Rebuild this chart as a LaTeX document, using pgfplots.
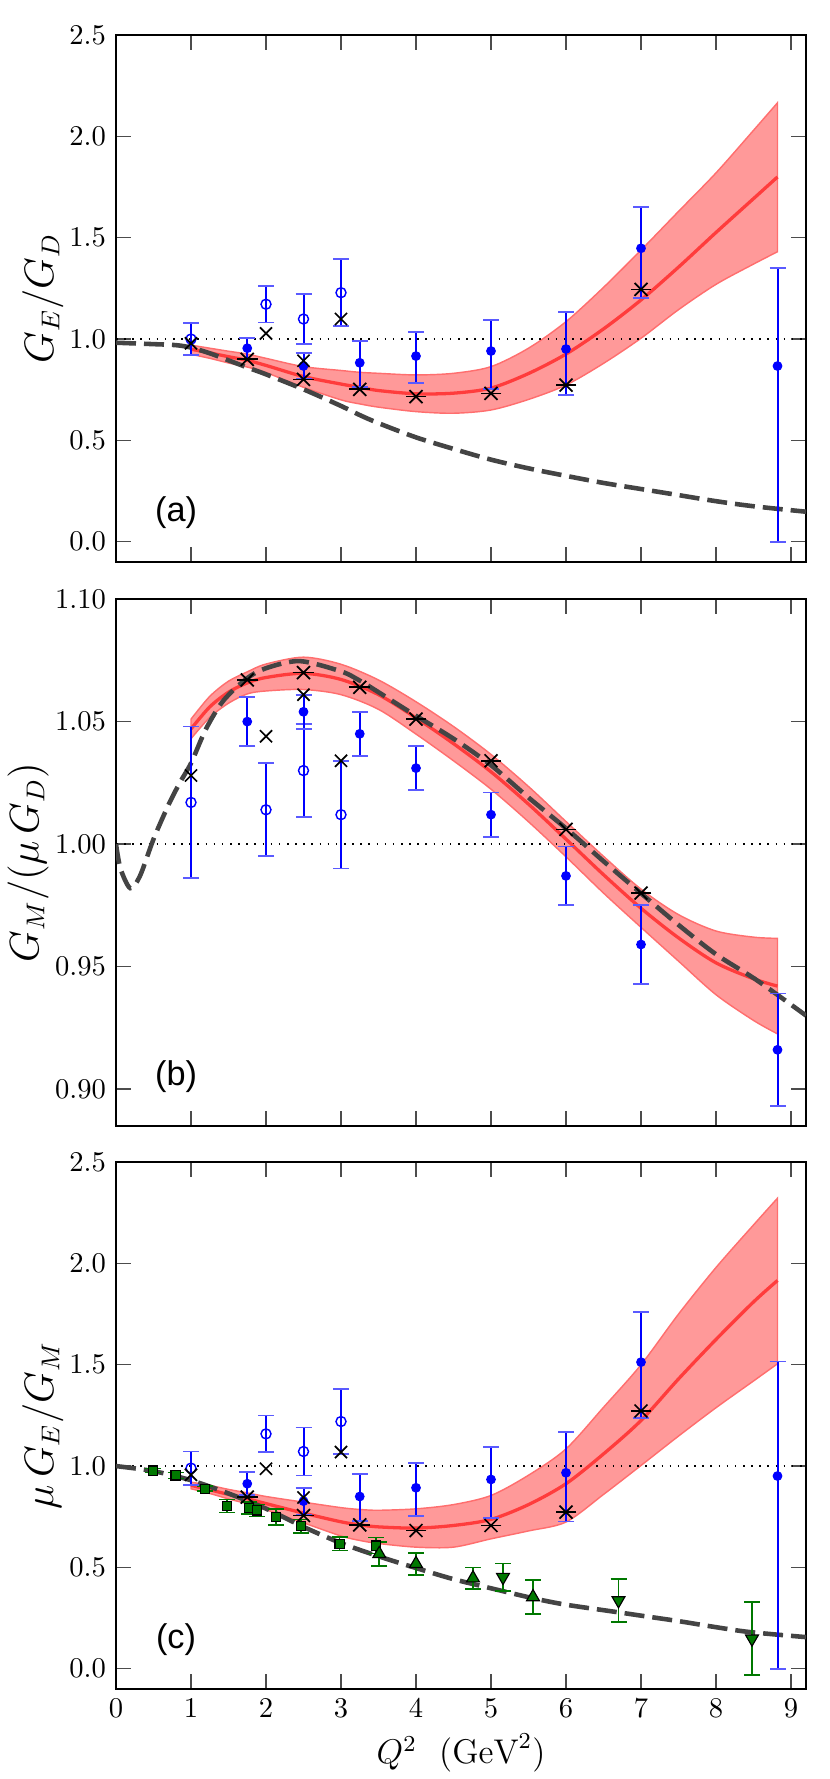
\documentclass[border=0pt]{standalone}
\usepackage{fontspec}
\newfontfamily\sffont{Liberation Sans}
\usepackage{pgfplots}
\pgfplotsset{compat=1.18}
\usepgfplotslibrary{fillbetween}
\usepackage{pgfplotstable}

\definecolor{bandfill}{RGB}{255,153,153}
\definecolor{bandedge}{RGB}{255,110,110}
\definecolor{redline}{RGB}{255,60,60}
\definecolor{dashc}{RGB}{68,68,68}
\definecolor{dgreen}{RGB}{0,120,0}
\definecolor{capblue}{RGB}{90,90,255}

% ---------------- bands: x lo hi mid ----------------
\pgfplotstableread{
x lo hi mid
1.0 0.925 0.970 0.950
1.25 0.905 0.955 0.932
1.5 0.882 0.940 0.913
1.75 0.862 0.926 0.895
2.0 0.835 0.905 0.870
2.5 0.762 0.864 0.815
3.0 0.700 0.845 0.778
3.25 0.680 0.836 0.762
3.5 0.664 0.831 0.746
4.0 0.642 0.823 0.730
4.5 0.634 0.831 0.733
5.0 0.650 0.864 0.758
5.5 0.702 0.955 0.830
6.0 0.773 1.086 0.926
6.5 0.880 1.255 1.050
7.0 1.004 1.439 1.193
7.5 1.145 1.630 1.355
8.0 1.270 1.820 1.526
8.5 1.370 2.030 1.693
8.82 1.431 2.166 1.800
}\bandA

\pgfplotstableread{
x lo hi mid
1.0 1.0430 1.0510 1.0470
1.25 1.0517 1.0603 1.0560
1.5 1.0575 1.0665 1.0620
1.75 1.0613 1.0703 1.0658
2.0 1.0625 1.0735 1.0680
2.5 1.0631 1.0763 1.0697
3.0 1.0610 1.0734 1.0672
3.5 1.0550 1.0670 1.0610
4.0 1.0449 1.0581 1.0515
4.5 1.0340 1.0480 1.0410
5.0 1.0224 1.0366 1.0295
5.5 1.0091 1.0235 1.0163
6.0 0.9948 1.0092 1.0020
6.5 0.9800 0.9950 0.9875
7.0 0.9660 0.9816 0.9738
7.5 0.9522 0.9712 0.9617
8.0 0.9385 0.9645 0.9515
8.5 0.9280 0.9620 0.9450
8.82 0.9225 0.9615 0.9420
}\bandB

\pgfplotstableread{
x lo hi mid
1.0 0.888 0.921 0.905
1.25 0.865 0.905 0.883
1.5 0.838 0.885 0.860
1.75 0.814 0.868 0.839
2.0 0.785 0.850 0.815
2.5 0.720 0.822 0.768
3.0 0.655 0.795 0.725
3.25 0.633 0.786 0.710
3.5 0.618 0.782 0.700
4.0 0.600 0.789 0.694
4.5 0.600 0.810 0.707
5.0 0.641 0.855 0.737
5.5 0.680 0.955 0.810
6.0 0.724 1.085 0.913
6.5 0.860 1.290 1.060
7.0 1.003 1.500 1.225
7.5 1.148 1.750 1.430
8.0 1.288 1.980 1.625
8.5 1.420 2.190 1.810
8.82 1.505 2.322 1.916
}\bandC

\tikzset{panellabel/.style={font=\sffont\fontsize{12}{14}\selectfont, anchor=center}}

\pgfplotsset{
  panel/.style={
    scale only axis, width=241.5pt, height=184.4pt,
    xmin=0, xmax=9.2, xtick={0,1,2,3,4,5,6,7,8,9},
    xtick pos=both, ytick pos=both, tick align=inside,
    axis line style={line width=0.7pt},
    every tick/.style={black!70, line width=0.45pt},
    major tick length=5.25pt,
    every axis y label/.style={at={(axis description cs:-0.106,0.5)}, rotate=90, anchor=center, font=\fontsize{13.5}{16}\selectfont},
    every axis x label/.style={at={(axis description cs:0.5,-0.122)}, anchor=center, font=\fontsize{12}{14}\selectfont},
  },
  blueerr/.style={
    error bars/y dir=both, error bars/y explicit,
    error bars/error bar style={blue, line width=0.7pt},
    error bars/error mark options={rotate=90, capblue, mark size=2.8pt, line width=0.6pt}},
  openpt/.style={only marks, mark=o, mark size=1.75pt,
    mark options={draw=blue, fill=white, line width=0.5pt}, blueerr},
  fullpt/.style={only marks, mark=*, mark size=1.5pt,
    mark options={draw=blue, fill=blue}, blueerr},
  xpt/.style={only marks, mark=x, mark size=3.0pt, mark options={black, line width=0.6pt}},
  xbpt/.style={only marks, mark=x, mark size=3.2pt, mark options={black, line width=0.6pt}},
  barpt/.style={only marks, mark=-, mark size=3.6pt, mark options={black, line width=0.6pt}},
  grnpt/.style={only marks, mark options={draw=black, fill=dgreen, line width=0.4pt},
    error bars/y dir=both, error bars/y explicit,
    error bars/error bar style={dgreen, line width=0.6pt},
    error bars/error mark options={rotate=90, dgreen, mark size=2.8pt, line width=0.6pt}},
  dashline/.style={dashc, line width=1.6pt, dash pattern=on 7pt off 2.8pt, smooth},
  dotline/.style={black, line width=0.55pt, dash pattern=on 0.55pt off 2.3pt},
  centline/.style={redline, line width=1.15pt, smooth},
}

\begin{document}
\begin{tikzpicture}

% ======================= (a) =======================
\begin{axis}[panel, at={(40.6pt,425.95pt)}, anchor=south west,
  ymin=-0.1, ymax=2.5, ytick={0,0.5,1,1.5,2,2.5},
  xticklabels={},
  y tick label style={/pgf/number format/.cd, fixed, zerofill, precision=1},
  ylabel={$G_E/G_D$}]
\addplot[name path=aU, draw=none, smooth] table[x=x,y=hi]{\bandA};
\addplot[name path=aL, draw=none, smooth] table[x=x,y=lo]{\bandA};
\addplot[fill=bandfill, draw=bandedge, line width=0.5pt] fill between[of=aU and aL];
\addplot[dotline] coordinates {(0,1) (9.2,1)};
\addplot[centline] table[x=x,y=mid]{\bandA};
\addplot[dashline] coordinates {(0,0.982) (0.5,0.975) (0.8,0.970) (1.0,0.958) (1.25,0.930) (1.5,0.895) (1.75,0.860) (2.0,0.826) (2.5,0.752) (3.0,0.670) (3.25,0.625) (3.5,0.585) (4.0,0.515) (4.5,0.458) (5.0,0.405) (5.5,0.362) (6.0,0.325) (6.5,0.290) (7.0,0.260) (7.5,0.230) (8.0,0.200) (8.5,0.175) (9.2,0.148)};
\addplot[openpt] table[x=x,y=y,y error plus=ep,y error minus=em]{
x y ep em
1 1.000 0.080 0.080
2 1.172 0.090 0.090
2.5 1.099 0.123 0.123
3 1.229 0.165 0.165
};
\addplot[fullpt] table[x=x,y=y,y error plus=ep,y error minus=em]{
x y ep em
1.75 0.955 0.052 0.052
2.5 0.867 0.063 0.063
3.25 0.883 0.109 0.121
4 0.916 0.120 0.134
5 0.941 0.153 0.187
6 0.951 0.182 0.227
7 1.448 0.205 0.244
8.82 0.867 0.485 0.867
};
\addplot[xpt] coordinates {(1,0.979) (2,1.028) (2.5,0.893) (3,1.099)};
\addplot[xbpt] coordinates {(1.75,0.900) (2.5,0.801) (3.25,0.752) (4,0.716) (5,0.732) (6,0.773) (7,1.245)};
\addplot[barpt] coordinates {(1.75,0.900) (2.5,0.801) (3.25,0.752) (4,0.716) (5,0.732) (6,0.773) (7,1.245)};
\node[panellabel] at (rel axis cs:0.087,0.093) {(a)};
\end{axis}

% ======================= (b) =======================
\begin{axis}[panel, at={(40.6pt,228.55pt)}, anchor=south west,
  ymin=0.8849, ymax=1.10, ytick={0.90,0.95,1.00,1.05,1.10},
  xticklabels={},
  y tick label style={/pgf/number format/.cd, fixed, zerofill, precision=2},
  every axis y label/.append style={at={(axis description cs:-0.1275,0.5)}},
  ylabel={$G_M/(\mu\,G_D)$}]
\addplot[name path=bU, draw=none, smooth] table[x=x,y=hi]{\bandB};
\addplot[name path=bL, draw=none, smooth] table[x=x,y=lo]{\bandB};
\addplot[fill=bandfill, draw=bandedge, line width=0.5pt] fill between[of=bU and bL];
\addplot[dotline] coordinates {(0,1) (9.2,1)};
\addplot[centline] table[x=x,y=mid]{\bandB};
\addplot[dashline] coordinates {(0,1.000) (0.06,0.990) (0.19,0.982) (0.32,0.987) (0.5,1.002) (0.7,1.016) (0.85,1.025) (1.0,1.033) (1.2,1.047) (1.43,1.0585) (1.74,1.0675) (2.0,1.0718) (2.45,1.0747) (3.0,1.0705) (3.24,1.0669) (3.5,1.0620) (3.95,1.0533) (4.5,1.0430) (5.0,1.0322) (5.5,1.0190) (6.0,1.0064) (6.5,0.9930) (7.0,0.9799) (7.5,0.9670) (8.0,0.9550) (8.54,0.9445) (9.2,0.9300)};
\addplot[openpt] table[x=x,y=y,y error plus=ep,y error minus=em]{
x y ep em
1 1.017 0.031 0.031
2 1.014 0.019 0.019
2.5 1.030 0.019 0.019
3 1.012 0.022 0.022
};
\addplot[fullpt] table[x=x,y=y,y error plus=ep,y error minus=em]{
x y ep em
1.75 1.050 0.010 0.010
2.5 1.054 0.007 0.007
3.25 1.045 0.009 0.009
4 1.031 0.009 0.009
5 1.012 0.009 0.009
6 0.987 0.012 0.012
7 0.959 0.016 0.016
8.82 0.916 0.023 0.023
};
\addplot[xpt] coordinates {(1,1.028) (2,1.044) (2.5,1.061) (3,1.034)};
\addplot[xbpt] coordinates {(1.75,1.067) (2.5,1.070) (3.25,1.064) (4,1.051) (5,1.034) (6,1.006) (7,0.980)};
\addplot[barpt] coordinates {(1.75,1.067) (2.5,1.070) (3.25,1.064) (4,1.051) (5,1.034) (6,1.006) (7,0.980)};
\node[panellabel] at (rel axis cs:0.087,0.093) {(b)};
\end{axis}

% ======================= (c) =======================
\begin{axis}[panel, at={(40.6pt,31.5pt)}, anchor=south west,
  ymin=-0.1, ymax=2.5, ytick={0,0.5,1,1.5,2,2.5},
  y tick label style={/pgf/number format/.cd, fixed, zerofill, precision=1},
  ylabel={$\mu\,G_E/G_M$},
  xlabel={$Q^2\ \ (\mathrm{GeV}^2)$}]
\addplot[name path=cU, draw=none, smooth] table[x=x,y=hi]{\bandC};
\addplot[name path=cL, draw=none, smooth] table[x=x,y=lo]{\bandC};
\addplot[fill=bandfill, draw=bandedge, line width=0.5pt] fill between[of=cU and cL];
\addplot[dotline] coordinates {(0,1) (9.2,1)};
\addplot[centline] table[x=x,y=mid]{\bandC};
\addplot[dashline] coordinates {(0,1.000) (0.5,0.975) (1.0,0.930) (1.5,0.865) (2.0,0.790) (2.5,0.700) (3.0,0.620) (3.5,0.555) (4.0,0.497) (4.5,0.442) (5.0,0.397) (5.56,0.348) (6.0,0.316) (6.67,0.280) (7.0,0.262) (7.5,0.235) (8.0,0.205) (8.45,0.181) (9.2,0.156)};
\addplot[grnpt, mark=square*, mark size=1.6pt] table[x=x,y=y,y error=e]{
x y e
0.49 0.978 0.010
0.795 0.954 0.015
1.187 0.888 0.012
1.48 0.803 0.032
1.77 0.793 0.030
1.88 0.781 0.030
2.13 0.748 0.040
2.47 0.704 0.033
2.98 0.617 0.033
3.47 0.608 0.040
};
\addplot[grnpt, mark=triangle*, mark size=2.6pt] table[x=x,y=y,y error=e]{
x y e
3.51 0.567 0.060
4.0 0.518 0.054
4.76 0.447 0.053
5.56 0.354 0.085
};
\addplot[grnpt, mark=triangle*, mark size=2.6pt, every mark/.append style={rotate=180}] table[x=x,y=y,y error=e]{
x y e
5.16 0.452 0.068
6.70 0.337 0.107
8.48 0.148 0.180
};
\addplot[openpt] table[x=x,y=y,y error plus=ep,y error minus=em]{
x y ep em
1 0.990 0.082 0.082
2 1.159 0.090 0.090
2.5 1.072 0.118 0.118
3 1.220 0.162 0.162
};
\addplot[fullpt] table[x=x,y=y,y error plus=ep,y error minus=em]{
x y ep em
1.75 0.913 0.057 0.057
2.5 0.827 0.066 0.066
3.25 0.850 0.110 0.120
4 0.893 0.123 0.140
5 0.934 0.160 0.190
6 0.967 0.200 0.240
7 1.513 0.247 0.276
8.82 0.951 0.565 0.951
};
\addplot[xpt] coordinates {(1,0.957) (2,0.987) (2.5,0.845) (3,1.069)};
\addplot[xbpt] coordinates {(1.75,0.847) (2.5,0.756) (3.25,0.710) (4,0.682) (5,0.707) (6,0.773) (7,1.272)};
\addplot[barpt] coordinates {(1.75,0.847) (2.5,0.756) (3.25,0.710) (4,0.682) (5,0.707) (6,0.773) (7,1.272)};
\node[panellabel] at (rel axis cs:0.087,0.093) {(c)};
\end{axis}

\pgfresetboundingbox
\path[use as bounding box] (0,0) rectangle (290.5pt,622.65pt);
\end{tikzpicture}
\end{document}
